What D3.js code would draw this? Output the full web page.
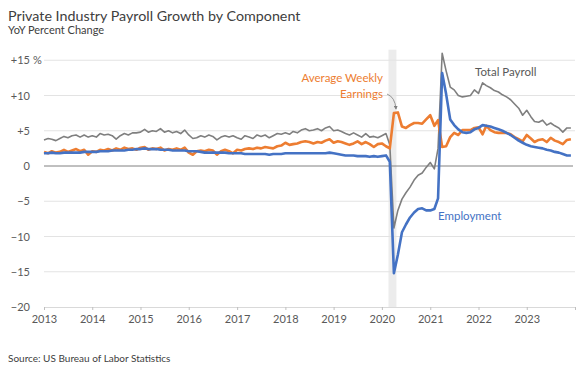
<!DOCTYPE html>
<html><head><meta charset="utf-8">
<script src="https://cdn.jsdelivr.net/npm/d3@7"></script>
<style>
html,body{margin:0;padding:0;background:#fff;}
text{font-family:Lato, "Open Sans", sans-serif;}
</style></head>
<body><svg id="c" width="586" height="368"></svg>
<script>
const startYear = 2013;
const yearTicks = [2013,2014,2015,2016,2017,2018,2019,2020,2021,2022,2023];
const yTicks = [-20,-15,-10,-5,0,5,10,15];

const employment = [
 1.8,1.8,1.9,1.8,1.8,1.9,1.9,1.9,1.9,1.9,2.0,2.0,
 2.0,2.0,2.1,2.1,2.1,2.2,2.2,2.2,2.2,2.3,2.3,2.4,
 2.4,2.5,2.4,2.4,2.4,2.3,2.3,2.3,2.2,2.2,2.2,2.2,
 2.1,2.1,2.1,2.0,1.9,1.9,1.9,1.9,1.9,1.9,1.8,1.8,
 1.8,1.8,1.7,1.7,1.7,1.7,1.7,1.7,1.6,1.7,1.7,1.7,
 1.8,1.8,1.8,1.8,1.8,1.8,1.8,1.8,1.8,1.8,1.8,1.9,
 1.8,1.7,1.6,1.5,1.5,1.5,1.4,1.4,1.4,1.3,1.4,1.3,
 1.4,1.5,0.6,-15.2,-12.6,-9.4,-8.3,-7.3,-6.6,-6.1,-6.0,-6.3,
 -6.3,-6.1,-4.6,13.2,10.2,6.6,5.8,5.2,4.8,4.7,4.8,5.2,
 5.4,5.8,5.7,5.6,5.4,5.2,5.0,4.7,4.4,4.0,3.6,3.3,
 3.0,2.8,2.7,2.6,2.5,2.3,2.2,2.0,1.9,1.7,1.5,1.5
];
const earnings = [
 2.0,1.8,2.1,1.9,2.0,2.3,2.0,2.2,2.4,2.1,2.3,1.6,
 2.1,2.0,2.3,2.2,2.4,2.2,2.5,2.3,2.6,2.4,2.5,2.3,
 2.6,2.7,2.3,2.5,2.4,2.6,2.2,2.4,2.3,2.5,2.3,2.6,
 1.9,1.6,2.1,2.2,2.1,2.3,2.2,1.6,2.1,2.3,2.1,1.8,
 2.3,2.2,2.4,2.5,2.4,2.6,2.5,2.7,2.6,2.5,2.8,2.9,
 3.3,3.0,3.1,3.2,3.4,3.5,3.4,3.2,3.4,3.3,3.6,3.8,
 3.3,3.5,3.4,3.2,3.0,3.2,3.5,3.1,3.4,3.1,2.7,3.1,
 3.2,2.8,2.5,7.5,7.6,5.6,5.4,5.8,6.1,6.1,6.0,6.6,
 7.2,5.7,6.5,2.7,2.8,4.1,4.7,4.4,5.1,5.1,5.1,5.4,
 5.5,4.5,5.7,5.1,4.8,4.7,4.7,4.7,4.5,4.1,3.8,3.5,
 4.4,3.9,3.4,3.7,3.8,3.4,4.0,3.6,3.4,3.1,3.7,3.8
];
const totalPayroll = [
 3.7,3.9,3.8,3.6,3.9,4.2,4.0,4.3,4.4,4.1,4.4,4.1,
 4.3,4.1,4.6,4.4,4.5,4.3,3.8,4.3,4.6,4.4,4.7,4.7,
 4.8,5.2,4.8,5.0,4.9,5.3,4.8,5.0,4.7,4.9,4.6,5.1,
 4.4,3.9,4.0,4.3,4.1,4.4,4.2,3.7,4.1,4.3,4.1,4.3,
 4.0,3.8,4.3,4.1,3.9,4.4,4.2,4.4,4.0,4.3,4.6,4.5,
 4.7,4.5,4.9,4.7,5.1,5.3,5.0,5.1,5.3,5.0,5.4,5.6,
 5.0,5.1,4.9,4.6,4.4,4.7,4.4,4.1,4.6,4.1,4.2,4.0,
 4.3,4.6,3.0,-8.8,-6.3,-4.7,-3.8,-3.0,-2.0,-1.3,-1.0,-0.2,
 0.5,-0.4,2.5,16.0,13.5,11.2,10.8,10.0,9.8,9.9,10.0,10.8,
 10.3,11.8,11.4,11.1,10.7,10.5,10.1,9.8,9.4,8.8,8.2,7.2,
 7.9,7.0,6.3,6.2,6.5,5.8,6.1,5.7,5.4,4.8,5.4,5.4
];
const recession = [new Date(2020,1,20), new Date(2020,3,20)];

const svg = d3.select("#c");
const x = d3.scaleTime().domain([new Date(2013,0,1), new Date(2024,0,1)]).range([44,575]);
const y = d3.scaleLinear().domain([-20,15]).range([307,60.25]);
const dates = employment.map((d,i)=>new Date(startYear, i, 1));

// title
svg.append("text").attr("x",8).attr("y",21).attr("font-size",14.3).attr("fill","#404040").text("Private Industry Payroll Growth by Component");
svg.append("text").attr("x",8).attr("y",34).attr("font-size",11).attr("fill","#404040").text("YoY Percent Change");
svg.append("text").attr("x",8).attr("y",362).attr("font-size",10).attr("fill","#404040").text("Source: US Bureau of Labor Statistics");

// recession band
svg.append("rect").attr("x",x(recession[0])).attr("width",x(recession[1])-x(recession[0]))
  .attr("y",y(16.5)).attr("height",y(-20)-y(16.5)).attr("fill","#ececec");

// gridlines
svg.append("g").selectAll("line").data(yTicks.filter(d=>d!==0 && d!==-20)).join("line")
  .attr("x1",44).attr("x2",575).attr("y1",d=>y(d)).attr("y2",d=>y(d))
  .attr("stroke","#e3e3e3").attr("stroke-width",1);

// y labels
svg.append("g").selectAll("text").data(yTicks).join("text")
  .attr("x",30).attr("y",d=>y(d)+4).attr("text-anchor","end").attr("font-size",11).attr("fill","#595959")
  .text(d=> d>0 ? "+"+d : (d<0 ? "\u2212"+Math.abs(d) : "0"));
svg.append("text").attr("x",33).attr("y",y(15)+4).attr("font-size",11).attr("fill","#595959").text("%");

// x axis
const xAxis = d3.axisBottom(x).tickValues(d3.range(2013,2025).map(yy=>new Date(yy,0,1)))
  .tickSize(3).tickFormat(d=> d.getFullYear()<2024 ? d.getFullYear() : "");
const gx = svg.append("g").attr("transform",`translate(0,${y(-20)})`).call(xAxis);
gx.select(".domain").attr("stroke","#d9d9d9");
gx.selectAll(".tick line").attr("stroke","#bfbfbf");
gx.selectAll(".tick text").attr("font-size",11).attr("fill","#595959").attr("font-family","Lato").attr("dy","0.9em");

// zero line
svg.append("line").attr("x1",44).attr("x2",573).attr("y1",y(0)).attr("y2",y(0)).attr("stroke","#808080").attr("stroke-width",1);

const line = d3.line().x((d,i)=>x(dates[i])).y(d=>y(d));
svg.append("path").datum(totalPayroll).attr("d",line).attr("fill","none").attr("stroke","#7f7f7f").attr("stroke-width",1.6).attr("stroke-linejoin","round");
svg.append("path").datum(earnings).attr("d",line).attr("fill","none").attr("stroke","#ED7D31").attr("stroke-width",2.6).attr("stroke-linejoin","round");
svg.append("path").datum(employment).attr("d",line).attr("fill","none").attr("stroke","#4472C4").attr("stroke-width",2.6).attr("stroke-linejoin","round");

// annotations
svg.append("text").attr("x",383).attr("y",82).attr("text-anchor","end").attr("font-size",11.5).attr("fill","#ED7D31").text("Average Weekly");
svg.append("text").attr("x",383).attr("y",98).attr("text-anchor","end").attr("font-size",11.5).attr("fill","#ED7D31").text("Earnings");
svg.append("text").attr("x",475).attr("y",76).attr("font-size",11.5).attr("fill","#595959").text("Total Payroll");
svg.append("text").attr("x",438).attr("y",220).attr("font-size",11.5).attr("fill","#4472C4").text("Employment");

// arrow
svg.append("defs").append("marker").attr("id","ah").attr("viewBox","0 0 10 10").attr("refX",8).attr("refY",5)
  .attr("markerWidth",5).attr("markerHeight",5).attr("orient","auto")
  .append("path").attr("d","M0,0L10,5L0,10z").attr("fill","#7f7f7f");
svg.append("path").attr("d","M387,94 Q395,97 396,109").attr("fill","none").attr("stroke","#7f7f7f").attr("stroke-width",0.8).attr("marker-end","url(#ah)");
</script></body></html>
